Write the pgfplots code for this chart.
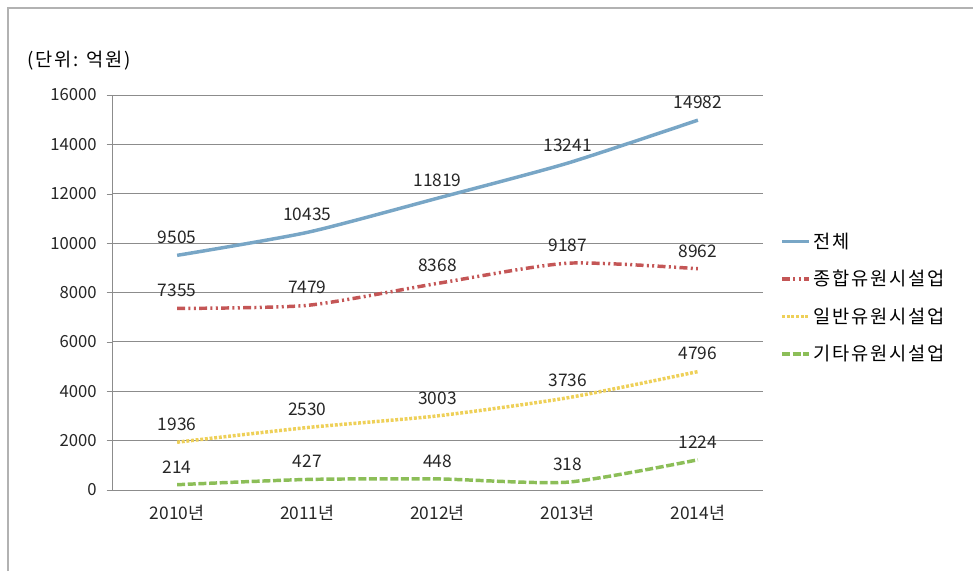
\documentclass[border=0pt]{standalone}
\usepackage{pgfplots}
\pgfplotsset{compat=1.18}
\usepackage{fontspec}
\setmainfont{Noto Sans CJK KR}
\newfontfamily\spaced[LetterSpace=10]{Noto Sans CJK KR}

\definecolor{cTotal}{RGB}{120,166,198}
\definecolor{cGen}{RGB}{196,86,86}
\definecolor{cReg}{RGB}{238,208,88}
\definecolor{cEtc}{RGB}{140,190,88}
\definecolor{cGrid}{RGB}{140,140,140}

\begin{document}
\begin{tikzpicture}
\path[use as bounding box] (0,0) rectangle (729.75pt,428.25pt);
\draw[gray!60, line width=0.8pt] (6pt,0) -- (6pt,422.25pt) -- (729.75pt,422.25pt);
\node[anchor=west, font=\spaced\fontsize{14}{16}\selectfont] at (17pt,382.5pt) {(단위: 억원)};

\begin{axis}[
  at={(84pt,60.75pt)}, anchor=south west,
  scale only axis, width=488.25pt, height=296.25pt,
  xmin=-0.5, xmax=4.5, ymin=0, ymax=16000,
  xtick=data,
  xticklabels={2010년,2011년,2012년,2013년,2014년},
  ytick={0,2000,...,16000},
  axis x line=bottom, axis y line=left,
  axis line style={cGrid, -},
  ymajorgrids, grid style={cGrid, line width=0.6pt},
  x tick style={draw=none},
  y tick style={cGrid},
  tick align=outside, major tick length=4pt,
  scaled y ticks=false,
  /pgf/number format/1000 sep={},
  /pgf/number format/assume math mode=true,
  ticklabel style={font=\fontsize{12.5}{14}\selectfont, text=black!85},
  xticklabel style={yshift=-4pt, font=\fontsize{13}{15}\selectfont},
  yticklabel style={xshift=-4pt},
  nodes near coords,
  every node near coord/.append style={font=\fontsize{13}{15}\selectfont, text=black!85, anchor=south, yshift=4pt},
  legend cell align=left,
  legend style={at={(1.02,0.665)}, anchor=north west, draw=none, fill=none,
    font=\spaced\fontsize{14}{16}\selectfont, row sep=11pt},
  legend image code/.code={\draw[#1] (0pt,0pt) -- (20pt,0pt);},
]
\addplot[cTotal, line width=2.6pt, smooth, tension=0.4] coordinates {
  (0,9505) (1,10435) (2,11819) (3,13241) (4,14982)
};
\addlegendentry{전체}
\addplot[cGen, line width=2.6pt, smooth, tension=0.4,
  dash pattern=on 6pt off 2.5pt on 1.5pt off 2.5pt on 1.5pt off 2.5pt] coordinates {
  (0,7355) (1,7479) (2,8368) (3,9187) (4,8962)
};
\addlegendentry{종합유원시설업}
\addplot[cReg, line width=2.6pt, smooth, tension=0.4,
  dash pattern=on 2.2pt off 1.3pt] coordinates {
  (0,1936) (1,2530) (2,3003) (3,3736) (4,4796)
};
\addlegendentry{일반유원시설업}
\addplot[cEtc, line width=2.6pt, smooth, tension=0.4,
  dash pattern=on 6pt off 2pt] coordinates {
  (0,214) (1,427) (2,448) (3,318) (4,1224)
};
\addlegendentry{기타유원시설업}
\end{axis}
\end{tikzpicture}
\end{document}
